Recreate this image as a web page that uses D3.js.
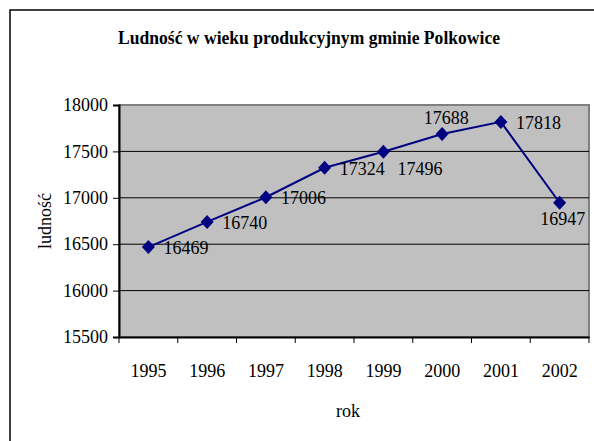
<!DOCTYPE html>
<html>
<head>
    <meta charset="utf-8">
    <title>Ludność w wieku produkcyjnym</title>
    <script src="https://cdn.jsdelivr.net/npm/d3@7"></script>
    <style>
        body { margin: 0; background: white; }
    </style>
</head>
<body>
    <div id="chart"></div>
    <script>
        const years = ["1995", "1996", "1997", "1998", "1999", "2000", "2001", "2002"];
        const people = [16469, 16740, 17006, 17324, 17496, 17688, 17818, 16947];
        const yTicks = [15500, 16000, 16500, 17000, 17500, 18000];
        // where each value label sits relative to its marker
        const labelPlace = ["right", "right", "right", "right", "belowRight", "above", "right", "below"];

        const FONT = "Liberation Serif";
        const W = 594, H = 441;
        const margin = { top: 105, right: 5, bottom: 104, left: 119 };
        const width = W - margin.left - margin.right,
            height = H - margin.top - margin.bottom;

        const svg = d3.select("#chart").append("svg")
            .attr("width", W)
            .attr("height", H)
            .attr("font-family", FONT);

        // outer chart frame
        svg.append("rect")
            .attr("x", 10).attr("y", 10)
            .attr("width", 700).attr("height", 600)
            .attr("fill", "white")
            .attr("stroke", "black")
            .attr("stroke-width", 1.5);

        svg.append("text")
            .attr("x", 118).attr("y", 44)
            .attr("textLength", 382)
            .attr("lengthAdjust", "spacingAndGlyphs")
            .attr("font-family", FONT)
            .attr("font-size", 19)
            .attr("font-weight", "bold")
            .text("Ludność w wieku produkcyjnym gminie Polkowice");

        const g = svg.append("g")
            .attr("transform", `translate(${margin.left}, ${margin.top})`);

        const x = d3.scaleBand().domain(years).range([0, width]);
        const y = d3.scaleLinear().domain([15500, 18000]).range([height, 0]);

        g.append("rect")
            .attr("width", width).attr("height", height)
            .attr("fill", "#c0c0c0")
            .attr("stroke", "#808080")
            .attr("stroke-width", 2);

        // gridlines
        g.append("g")
            .selectAll("line")
            .data(yTicks.filter(d => d > 15500 && d < 18000))
            .join("line")
            .attr("x1", 0).attr("x2", width)
            .attr("y1", d => y(d)).attr("y2", d => y(d))
            .attr("stroke", "black")
            .attr("stroke-width", 1);

        // Y axis
        const yAxis = g.append("g")
            .call(d3.axisLeft(y).tickValues(yTicks).tickSize(6).tickPadding(5).tickFormat(d3.format("d")))
            .attr("font-family", FONT)
            .attr("font-size", 18);
        yAxis.select(".domain").attr("stroke-width", 2);

        // X axis, ticks between categories
        const xAxis = g.append("g")
            .attr("transform", `translate(0, ${height})`)
            .call(d3.axisBottom(x).tickSize(0).tickPadding(27))
            .attr("font-family", FONT)
            .attr("font-size", 18);
        xAxis.select(".domain").attr("stroke-width", 2);
        xAxis.append("g")
            .selectAll("line")
            .data(years.concat(["end"]))
            .join("line")
            .attr("x1", (d, i) => i * x.bandwidth())
            .attr("x2", (d, i) => i * x.bandwidth())
            .attr("y1", 0).attr("y2", 6)
            .attr("stroke", "black");

        svg.append("text")
            .attr("x", 348).attr("y", 417)
            .attr("text-anchor", "middle")
            .attr("font-size", 18)
            .text("rok");

        svg.append("text")
            .attr("transform", "translate(51, 221) rotate(-90)")
            .attr("text-anchor", "middle")
            .attr("font-size", 18)
            .text("ludność");

        const cx = d => x(d) + x.bandwidth() / 2;

        g.append("path")
            .datum(people)
            .attr("fill", "none")
            .attr("stroke", "#000080")
            .attr("stroke-width", 2)
            .attr("d", d3.line()
                .x((d, i) => cx(years[i]))
                .y(d => y(d)));

        g.append("g")
            .selectAll("path")
            .data(people)
            .join("path")
            .attr("transform", (d, i) => `translate(${cx(years[i])}, ${y(d)})`)
            .attr("d", "M0,-7L6.5,0L0,7L-6.5,0Z")
            .attr("fill", "#000080");

        const offsets = {
            right: [15, 7, "start"],
            belowRight: [14, 23, "start"],
            above: [4, -10, "middle"],
            below: [3, 22, "middle"]
        };
        g.append("g")
            .attr("font-size", 18)
            .selectAll("text")
            .data(people)
            .join("text")
            .attr("x", (d, i) => cx(years[i]) + offsets[labelPlace[i]][0])
            .attr("y", (d, i) => y(d) + offsets[labelPlace[i]][1])
            .attr("text-anchor", (d, i) => offsets[labelPlace[i]][2])
            .text(d => d);
    </script>
</body>
</html>
